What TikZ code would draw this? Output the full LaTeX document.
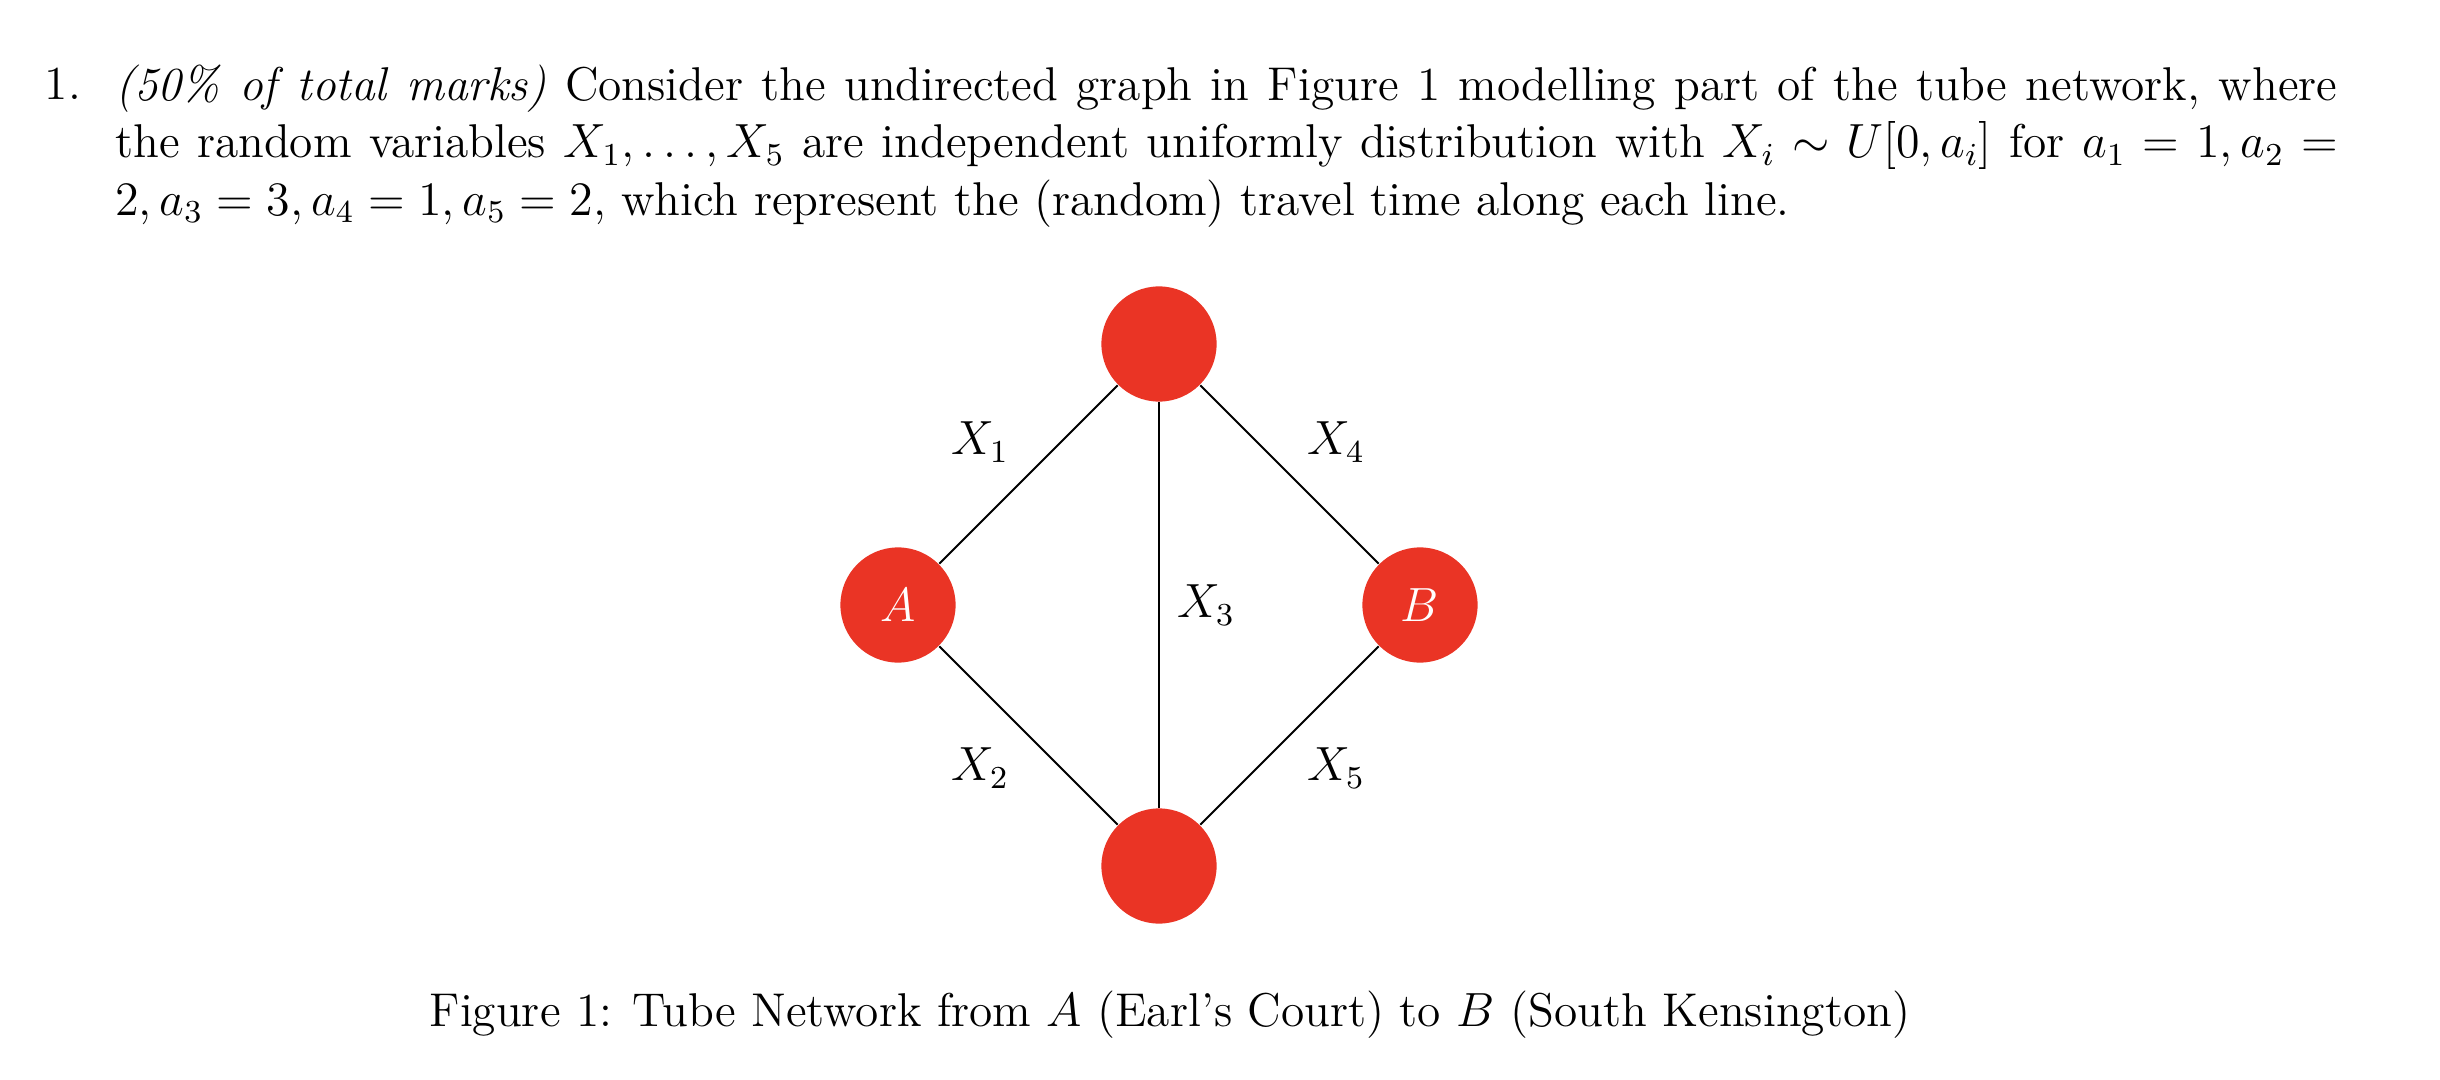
\documentclass[tikz,border=0pt]{standalone}
\definecolor{tubered}{RGB}{234,52,37}
\begin{document}
\begin{tikzpicture}[x=1pt, y=1pt, every node/.style={font=\fontsize{11.85}{14.4}\selectfont},
    station/.style={circle, fill=tubered, minimum size=28.8pt, inner sep=0pt, text=white},
    line/.style={line width=0.5pt}]
    \useasboundingbox (0,0) rectangle (610,-270);
    % question text
    \node[anchor=base west, inner sep=0pt] (num) at (11,-25) {1.};
    \node[anchor=north west, inner sep=0pt, text width=555.6pt, align=justify] (question) at (28.6,-16)
        {\emph{(50\% of total marks)} Consider the undirected graph in Figure 1 modelling part of the tube network, where\linebreak
        the random variables $X_1,\dots,X_5$ are independent uniformly distribution with $X_i\sim U[0,a_i]$ for $a_1=1,a_2=$\linebreak
        $2,a_3=3,a_4=1,a_5=2$, which represent the (random) travel time along each line.};
    % stations
    \node[station] (top) at (289.75,-86) {};
    \node[station] (A) at (224.5,-151.25) {$A$};
    \node[station] (B) at (355,-151.25) {$B$};
    \node[station] (bot) at (289.75,-216.5) {};
    % lines
    \draw[line] (A) -- (top);
    \draw[line] (A) -- (bot);
    \draw[line] (top) -- (bot);
    \draw[line] (top) -- (B);
    \draw[line] (bot) -- (B);
    % labels
    \node (x1) at (245,-110.5) {$X_1$};
    \node (x2) at (245,-192) {$X_2$};
    \node (x3) at (301.5,-151.25) {$X_3$};
    \node (x4) at (334,-110.5) {$X_4$};
    \node (x5) at (334,-192) {$X_5$};
    % caption
    \node[anchor=base, inner sep=0pt] (caption) at (292.5,-256.7)
        {Figure 1: Tube Network from $A$ (Earl's Court) to $B$ (South Kensington)};
\end{tikzpicture}
\end{document}
